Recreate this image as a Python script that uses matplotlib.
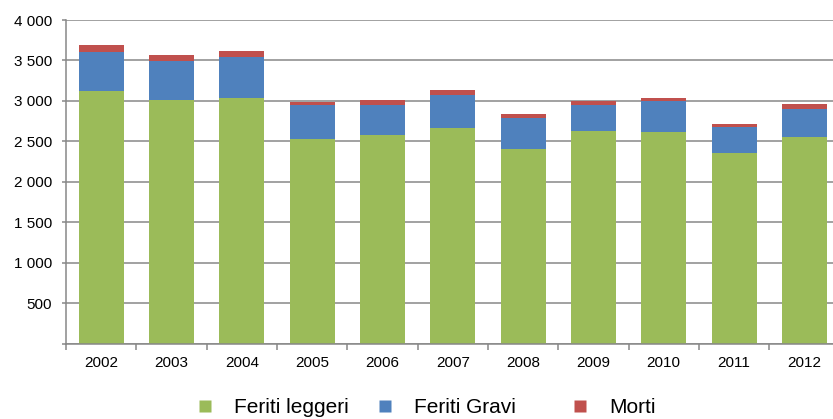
import numpy as np
import matplotlib.pyplot as plt
from matplotlib.lines import Line2D
from matplotlib.ticker import FuncFormatter

plt.rcParams['font.family'] = ['Liberation Sans', 'DejaVu Sans']

# Data
anni = ['2002', '2003', '2004', '2005', '2006', '2007', '2008', '2009', '2010', '2011', '2012']
feriti_leggeri = [3125, 3005, 3030, 2531, 2580, 2667, 2407, 2630, 2609, 2354, 2556]
feriti_gravi = [474, 483, 512, 412, 375, 400, 380, 325, 384, 322, 338]
morti = [95, 79, 69, 42, 59, 70, 45, 46, 37, 41, 70]

serie = ['Feriti leggeri', 'Feriti Gravi', 'Morti']
colori = ['#9BBB59', '#4F81BD', '#C0504D']
grigio = '#878787'

fig = plt.figure(figsize=(8.33, 4.19), dpi=100)
ax = fig.add_axes([66/833, 1 - 343.5/419, 773.5/833, (343.5 - 20)/419])

x = np.arange(len(anni))
w = 0.64
fondo = np.zeros(len(anni))
for valori, col in zip([feriti_leggeri, feriti_gravi, morti], colori):
    ax.bar(x, valori, w, bottom=fondo, color=col, edgecolor='none', zorder=3)
    fondo = fondo + np.array(valori)

ax.set_xlim(-0.5, len(anni) - 0.5)
ax.set_ylim(0, 4000)
ax.set_yticks(np.arange(0, 4001, 500))
ax.yaxis.set_major_formatter(FuncFormatter(
    lambda v, p: '' if v == 0 else '{:,}'.format(int(v)).replace(',', ' ')))
ax.grid(axis='y', color=grigio, linewidth=1.1, zorder=0)

ax.set_xticks(x)
ax.set_xticklabels(anni)
ax.set_xticks(np.arange(-0.5, len(anni)), minor=True)
ax.tick_params(axis='x', which='major', length=0, pad=9, labelsize=11)
ax.tick_params(axis='x', which='minor', length=4, width=1.1, color=grigio, direction='out')
ax.tick_params(axis='y', length=3, width=1.1, color=grigio, pad=7, labelsize=11)

for s in ['top', 'right']:
    ax.spines[s].set_visible(False)
for s in ['left', 'bottom']:
    ax.spines[s].set_color(grigio)
    ax.spines[s].set_linewidth(1.1)
    ax.spines[s].set_zorder(4)

# Legend, one entry per position as in the original
pos_x = [199/833, 379/833, 574/833]
for nome, col, px in zip(serie, colori, pos_x):
    h = Line2D([], [], marker='s', linestyle='none', markersize=8,
               color=col, markeredgecolor='none')
    leg = fig.legend(handles=[h], labels=[nome], loc='center left',
                     bbox_to_anchor=(px, 1 - 407.5/419), frameon=False,
                     fontsize=15, handlelength=0.6, handletextpad=1.1,
                     borderpad=0, borderaxespad=0)

fig.savefig('out.png', dpi=100)
